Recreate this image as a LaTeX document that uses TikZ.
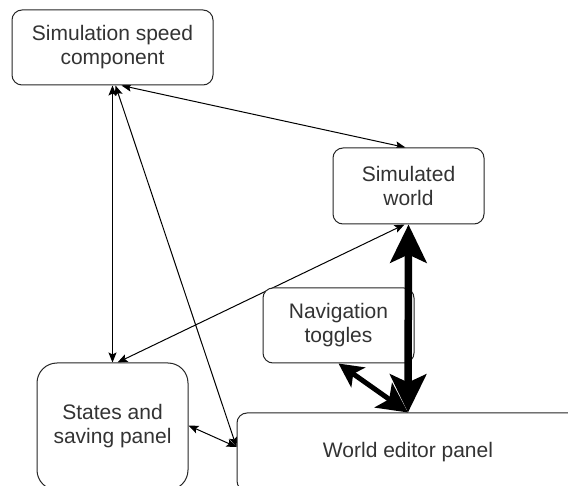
\documentclass[tikz,border=0pt]{standalone}
\usepackage{fontspec}
\setmainfont{Liberation Sans}
\usetikzlibrary{arrows.meta,backgrounds}
\begin{document}
\begin{tikzpicture}[x=1pt,y=-1pt,
  box/.style={draw=black!85, line width=1pt, fill=white, rounded corners=10pt,
    align=center, inner sep=0pt, text=black!80,
    font=\fontsize{21}{24}\selectfont},
  thin/.style={draw=black, line width=1pt,
    {Stealth[length=10pt,width=8pt,inset=2pt]}-{Stealth[length=10pt,width=8pt,inset=2pt]}},
  thick/.style={draw=black, line width=7.5pt,
    {Stealth[length=38pt,width=36pt,inset=8pt]}-{Stealth[length=38pt,width=36pt,inset=8pt]}},
  thickb/.style={draw=black, line width=5pt,
    {Stealth[length=24pt,width=24pt,inset=6pt]}-{Stealth[length=30pt,width=30pt,inset=7pt]}}]
\useasboundingbox (0,0) rectangle (568,486);
\clip (0,0) rectangle (568,486);
\node[box, minimum width=201pt, minimum height=75pt] (sim) at (112.5,47.5) {Simulation speed\\component};
\node[box, minimum width=151pt, minimum height=76pt] (world) at (408.5,186) {Simulated\\world};
\node[box, minimum width=151pt, minimum height=75pt] (nav) at (338.5,325.5) {Navigation\\toggles};
\node[box, minimum width=151pt, minimum height=127pt, rounded corners=20pt] (states) at (112.5,426.5) {States and\\saving panel};
\node[box, minimum width=342pt, minimum height=78pt] (wed) at (408,452) {World editor panel};
\begin{scope}[on background layer]
\draw[thin] ([xshift=9pt]sim.south) -- ([xshift=-3pt]world.north);
\draw[thin] (sim.south) -- (states.north);
\draw[thin] ([xshift=3pt]sim.south) -- ([yshift=5pt]wed.west);
\draw[thin] ([xshift=-4pt]world.south) -- ([xshift=5pt]states.north);
\draw[thin] ([yshift=1pt]states.east) -- ([yshift=5pt]wed.west);
\end{scope}
\draw[thick] (world.south) -- (wed.north);
\draw[thickb] (nav.south) -- (wed.north);
\end{tikzpicture}
\end{document}
